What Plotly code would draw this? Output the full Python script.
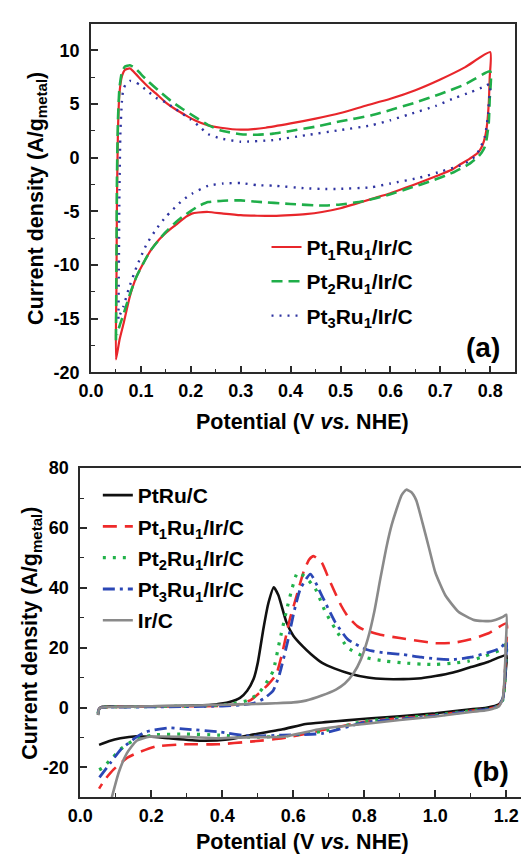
import plotly.graph_objects as go

# ---------------- Panel (a) data ----------------
a_names = ["Pt<sub>1</sub>Ru<sub>1</sub>/Ir/C", "Pt<sub>2</sub>Ru<sub>1</sub>/Ir/C", "Pt<sub>3</sub>Ru<sub>1</sub>/Ir/C"]

a_pt1_x = [0.05, 0.051, 0.052, 0.054, 0.057, 0.062, 0.068, 0.078, 0.09, 0.1, 0.115, 0.13, 0.15, 0.17, 0.19,
           0.21, 0.235, 0.26, 0.3, 0.35, 0.4, 0.45, 0.5, 0.55, 0.6, 0.65, 0.7, 0.75, 0.8,
           0.799, 0.797, 0.794, 0.79, 0.784, 0.776, 0.765, 0.757, 0.74, 0.724, 0.69, 0.659, 0.63, 0.6,
           0.561, 0.53, 0.5, 0.463, 0.43, 0.4, 0.365, 0.333, 0.3, 0.265, 0.235, 0.215, 0.202, 0.19,
           0.17, 0.15, 0.137, 0.12, 0.104, 0.091, 0.078, 0.065, 0.057, 0.05]
a_pt1_y = [-18.8, -12, -4, 2.5, 6.0, 7.6, 8.2, 8.33, 7.8, 7.3, 6.6, 6.0, 5.15, 4.5, 3.95,
           3.45, 3.02, 2.8, 2.62, 2.8, 3.2, 3.65, 4.18, 4.85, 5.5, 6.3, 7.3, 8.45, 9.85,
           7.5, 5.0, 3.2, 2.0, 1.1, 0.5, 0.1, -0.15, -0.6, -1.1, -1.75, -2.3, -2.8, -3.3,
           -3.85, -4.3, -4.7, -5.05, -5.25, -5.35, -5.42, -5.4, -5.35, -5.2, -5.05, -5.1, -5.2, -5.5,
           -6.25, -7.0, -7.6, -8.6, -9.9, -11.1, -12.9, -15.5, -17.0, -18.8]

a_pt2_x = [0.05, 0.051, 0.052, 0.054, 0.057, 0.062, 0.068, 0.078, 0.09, 0.1, 0.115, 0.137, 0.16, 0.185,
           0.209, 0.235, 0.26, 0.3, 0.333, 0.365, 0.4, 0.45, 0.5, 0.561, 0.6, 0.65, 0.7, 0.75, 0.8,
           0.799, 0.797, 0.793, 0.789, 0.783, 0.776, 0.757, 0.724, 0.68, 0.64, 0.6, 0.545, 0.5, 0.463,
           0.4, 0.333, 0.3, 0.265, 0.235, 0.215, 0.202, 0.183, 0.17, 0.15, 0.137, 0.12, 0.104, 0.09,
           0.078, 0.065, 0.057, 0.052]
a_pt2_y = [-17.0, -10, -2, 3.5, 6.5, 8.0, 8.5, 8.63, 8.3, 7.8, 7.1, 6.2, 5.3, 4.5,
           3.8, 3.05, 2.55, 2.2, 2.15, 2.25, 2.5, 2.9, 3.4, 3.95, 4.45, 5.15, 5.95, 6.85, 8.05,
           5.5, 3.2, 1.8, 1.0, 0.5, 0.1, -0.6, -1.4, -2.2, -2.8, -3.4, -4.05, -4.35, -4.45,
           -4.3, -4.1, -3.97, -4.0, -4.13, -4.5, -4.9, -5.5, -6.0, -6.9, -7.6, -8.6, -9.9, -11.2,
           -12.7, -14.6, -15.7, -16.5]

a_pt3_x = [0.055, 0.056, 0.057, 0.059, 0.062, 0.0646, 0.07, 0.078, 0.088, 0.098, 0.1135, 0.13, 0.15, 0.17,
           0.199, 0.215, 0.235, 0.26, 0.3, 0.365, 0.43, 0.496, 0.561, 0.6, 0.639, 0.691, 0.73, 0.76, 0.789, 0.8,
           0.799, 0.797, 0.796, 0.793, 0.789, 0.78, 0.77, 0.755, 0.736, 0.704, 0.659, 0.6, 0.561, 0.496,
           0.463, 0.43, 0.365, 0.333, 0.3, 0.265, 0.235, 0.202, 0.183, 0.15, 0.13, 0.111, 0.091, 0.075,
           0.065, 0.0555]
a_pt3_y = [-15.0, -9, -3, 2.5, 5.3, 6.35, 6.9, 7.17, 7.05, 6.8, 6.2, 5.6, 5.15, 4.53,
           3.6, 3.0, 2.2, 1.8, 1.5, 1.65, 2.1, 2.56, 3.02, 3.5, 4.07, 4.84, 5.6, 6.1, 6.66, 6.9,
           6.0, 5.0, 4.2, 3.0, 1.95, 0.9, 0.13, -0.4, -0.78, -1.24, -1.85, -2.4, -2.75, -2.9,
           -2.9, -2.84, -2.6, -2.55, -2.35, -2.4, -2.6, -3.36, -3.97, -5.5, -6.7, -8.1, -10.2, -12.3,
           -13.85, -14.9]

a_xticks = [0.0, 0.1, 0.2, 0.3, 0.4, 0.5, 0.6, 0.7, 0.8]
a_yticks = [-20, -15, -10, -5, 0, 5, 10]

# ---------------- Panel (b) data ----------------
b_names = ["PtRu/C", "Pt<sub>1</sub>Ru<sub>1</sub>/Ir/C", "Pt<sub>2</sub>Ru<sub>1</sub>/Ir/C",
           "Pt<sub>3</sub>Ru<sub>1</sub>/Ir/C", "Ir/C"]

b_ptru_x = [0.05, 0.053, 0.06, 0.1, 0.2, 0.3, 0.38, 0.42, 0.45, 0.47, 0.488, 0.5, 0.516, 0.53, 0.545,
            0.558, 0.58, 0.6, 0.626, 0.65, 0.68, 0.717, 0.76, 0.81, 0.86, 0.91, 0.96, 1.0, 1.05, 1.1,
            1.15, 1.2,
            1.198, 1.195, 1.19, 1.18, 1.16, 1.14, 1.1, 1.0, 0.9, 0.82, 0.75, 0.69, 0.635, 0.57, 0.48,
            0.415, 0.34, 0.25, 0.2, 0.158, 0.113, 0.08, 0.053]
b_ptru_y = [-2.5, -0.5, 0.2, 0.3, 0.4, 0.6, 1.0, 1.8, 3.2, 5.6, 9.5, 15, 26.5, 35, 40.2,
            37.5, 28.7, 24, 20.5, 17.8, 15, 13.0, 11.3, 10.0, 9.5, 9.5, 9.8, 10.5, 11.7, 13.5,
            15.3, 17.5,
            12, 7, 3, 1.2, 0.3, -0.2, -0.6, -1.9, -2.9, -3.6, -4.3, -4.9, -5.5, -7.3, -9.2,
            -10.7, -11.1, -10.3, -9.8, -9.6, -10.3, -11.3, -12.5]

b_pt1_x = [0.05, 0.053, 0.06, 0.1, 0.2, 0.3, 0.4, 0.45, 0.48, 0.506, 0.53, 0.552, 0.57, 0.589, 0.607,
           0.63, 0.645, 0.657, 0.68, 0.7, 0.717, 0.735, 0.754, 0.78, 0.8, 0.845, 0.9, 0.95, 1.0, 1.05,
           1.1, 1.15, 1.2,
           1.198, 1.195, 1.19, 1.18, 1.16, 1.14, 1.1, 1.0, 0.9, 0.8, 0.68, 0.57, 0.479, 0.387, 0.296,
           0.213, 0.158, 0.13, 0.094, 0.07, 0.053]
b_pt1_y = [-2.0, -0.5, 0.0, 0.2, 0.3, 0.4, 0.6, 1.2, 2.5, 5.0, 7.8, 11.1, 18.8, 29, 36.4,
           45.7, 49.5, 50.6, 48.4, 43, 38.5, 34, 30.3, 27.2, 25.9, 24.3, 23.2, 22.3, 21.5, 21.6,
           22.8, 24.8, 28.1,
           18, 9, 3, 0.8, -0.2, -0.6, -1.1, -2.6, -3.6, -4.8, -7.6, -10.3, -11.4, -12.3, -12.3,
           -13, -15.3, -17.0, -20.7, -24, -27.1]

b_pt2_x = [0.05, 0.053, 0.06, 0.1, 0.2, 0.3, 0.4, 0.43, 0.47, 0.5, 0.52, 0.543, 0.561, 0.58, 0.597,
           0.612, 0.635, 0.662, 0.69, 0.717, 0.754, 0.808, 0.86, 0.909, 0.96, 1.0, 1.05, 1.093, 1.14,
           1.184, 1.2,
           1.198, 1.195, 1.19, 1.18, 1.16, 1.14, 1.1, 1.0, 0.9, 0.8, 0.68, 0.57, 0.479, 0.387, 0.296,
           0.204, 0.15, 0.113, 0.085, 0.062, 0.05]
b_pt2_y = [-2.0, -0.5, 0.0, 0.2, 0.3, 0.4, 0.8, 1.3, 2.3, 4.5, 7.5, 12.2, 22, 32, 40,
           45.1, 43.5, 39.7, 32, 26.5, 19.9, 16.6, 15.5, 14.9, 14.5, 14.4, 14.8, 15.5, 17.2,
           19.3, 21.5,
           14, 7, 2.5, 0.6, -0.3, -0.6, -1.1, -2.5, -3.5, -4.6, -8.0, -9.6, -9.9, -9.2, -8.9,
           -9.2, -11.0, -14.0, -17.5, -20.2, -21]

b_pt3_x = [0.05, 0.053, 0.06, 0.1, 0.2, 0.3, 0.4, 0.45, 0.49, 0.516, 0.543, 0.561, 0.584, 0.602, 0.62,
           0.648, 0.68, 0.717, 0.754, 0.808, 0.86, 0.909, 0.96, 1.0, 1.047, 1.1, 1.15, 1.184, 1.2,
           1.198, 1.195, 1.19, 1.18, 1.16, 1.14, 1.1, 1.0, 0.9, 0.8, 0.68, 0.57, 0.479, 0.387, 0.296,
           0.25, 0.186, 0.158, 0.113, 0.085, 0.053]
b_pt3_y = [-2.0, -0.5, 0.0, 0.1, 0.2, 0.3, 0.5, 0.8, 1.5, 2.9, 5.6, 11.1, 22, 32, 39.7,
           44.6, 37.5, 28.7, 22.7, 19.3, 18.2, 17.7, 16.8, 16.3, 16.0, 16.8, 18.4, 19.9, 22.1,
           15, 8, 3, 0.8, -0.3, -0.7, -1.2, -2.8, -3.9, -5.0, -8.7, -9.2, -9.55, -8.1, -7.2,
           -6.8, -8.1, -9.9, -14.2, -18.5, -23.5]

b_ir_x = [0.05, 0.053, 0.06, 0.1, 0.2, 0.3, 0.4, 0.5, 0.55, 0.6, 0.635, 0.68, 0.72, 0.745, 0.77, 0.79,
          0.81, 0.828, 0.845, 0.863, 0.877, 0.89, 0.905, 0.918, 0.932, 0.946, 0.964, 0.983, 1.0, 1.028,
          1.065, 1.11, 1.157, 1.19, 1.2,
          1.198, 1.195, 1.19, 1.18, 1.16, 1.14, 1.1, 1.0, 0.9, 0.8, 0.68, 0.57, 0.479, 0.387, 0.296,
          0.195, 0.158, 0.131, 0.108, 0.09, 0.08]
b_ir_y = [-2.5, -0.5, 0.0, 0.2, 0.4, 0.6, 0.9, 1.2, 1.4, 1.7, 2.3, 4.0, 6.0, 8.0, 11.5, 16,
          23, 32, 43, 54, 61, 66, 71, 72.8, 72, 69.3, 61.6, 52.9, 45.1, 37.5,
          32, 29.2, 28.9, 30.3, 31,
          20, 10, 3, 0.5, -0.5, -1.0, -1.5, -3.0, -4.2, -5.5, -7.1, -9.8, -9.9, -10.3, -9.8,
          -9.8, -11.2, -15.3, -21.8, -29.5, -34]

b_xticks = [0.0, 0.2, 0.4, 0.6, 0.8, 1.0, 1.2]
b_yticks = [-20, 0, 20, 40, 60, 80]

# ---------------- Figure ----------------
W, H = 521, 861
FONT = "Liberation Sans, Arial, sans-serif"
AXC = "#2a2a2a"

fig = go.Figure()

a_series = [(a_pt1_x, a_pt1_y, "#e8262b", "solid", 2.2),
            (a_pt2_x, a_pt2_y, "#1fae49", "11px,6px", 2.6),
            (a_pt3_x, a_pt3_y, "#2e33a0", "2px,6px", 2.4)]
for i, ((xs, ys, c, d, w), nm) in enumerate(zip(a_series, a_names)):
    fig.add_trace(go.Scatter(x=xs, y=ys, mode="lines", name=nm, xaxis="x", yaxis="y",
                             line=dict(color=c, dash=d, width=w, shape="spline", smoothing=0.5),
                             legend="legend", legendgroup=f"a{i}"))

b_series = [(b_ptru_x, b_ptru_y, "#111111", "solid", 2.6),
            (b_pt1_x, b_pt1_y, "#ee2a2a", "14px,8px", 2.6),
            (b_pt2_x, b_pt2_y, "#22b24a", "3px,7px", 3.2),
            (b_pt3_x, b_pt3_y, "#2b47b5", "12px,5px,3px,5px", 2.8),
            (b_ir_x, b_ir_y, "#8a8a8a", "solid", 2.6)]
for i, ((xs, ys, c, d, w), nm) in enumerate(zip(b_series, b_names)):
    fig.add_trace(go.Scatter(x=xs, y=ys, mode="lines", name=nm, xaxis="x2", yaxis="y2",
                             line=dict(color=c, dash=d, width=w, shape="spline", smoothing=0.5),
                             legend="legend2", legendgroup=f"b{i}"))

tickfont = dict(family=FONT, size=18, color="black", weight="bold")

def xax(domain, anchor, rng, tickvals, minor_dtick, mirror):
    return dict(domain=domain, anchor=anchor, range=rng, tickmode="array", tickvals=tickvals,
                ticktext=[f"{v:.1f}" for v in tickvals], ticks="inside", ticklen=7, tickwidth=1.5,
                tickcolor=AXC, showline=True, linecolor=AXC, linewidth=1.6, mirror=mirror,
                showgrid=False, zeroline=False, tickfont=tickfont, ticklabelstandoff=1,
                minor=dict(ticks="inside", ticklen=4, tickwidth=1.3, tickcolor=AXC, dtick=minor_dtick,
                           tick0=0, showgrid=False))

def yax(domain, anchor, rng, tickvals, minor_dtick, mirror):
    return dict(domain=domain, anchor=anchor, range=rng, tickmode="array", tickvals=tickvals,
                ticktext=[str(v) for v in tickvals], ticks="inside", ticklen=7, tickwidth=1.5,
                tickcolor=AXC, showline=True, linecolor=AXC, linewidth=1.6, mirror=mirror,
                showgrid=False, zeroline=False, tickfont=tickfont, ticklabelstandoff=6,
                minor=dict(ticks="inside", ticklen=4, tickwidth=1.3, tickcolor=AXC, dtick=minor_dtick,
                           tick0=0, showgrid=False))

def px_x(p):
    return p / W

def px_y(p):
    return 1 - p / H

fig.update_layout(
    width=W, height=H, margin=dict(l=0, r=0, t=0, b=0),
    paper_bgcolor="white", plot_bgcolor="white",
    font=dict(family=FONT, color="black"),
    xaxis=xax([px_x(80), px_x(515)], "y", [0, 0.85], a_xticks, 0.05, True),
    yaxis=yax([px_y(371), px_y(14)], "x", [-20, 12.5], a_yticks, 2.5, True),
    xaxis2=xax([px_x(69), 1.0], "y2", [0, 1.2 + 15 / 364], b_xticks, 0.1, True),
    yaxis2=yax([px_y(806), px_y(469)], "x2", [-30, 80], b_yticks, 10, False),
    legend=dict(x=px_x(260), y=px_y(222), xanchor="left", yanchor="top",
                bgcolor="rgba(0,0,0,0)", font=dict(family=FONT, size=21, weight="bold"),
                tracegroupgap=4, itemwidth=30),
    legend2=dict(x=px_x(87), y=px_y(476), xanchor="left", yanchor="top",
                 bgcolor="rgba(0,0,0,0)", font=dict(family=FONT, size=21, weight="bold"),
                 tracegroupgap=1, itemwidth=30),
    showlegend=True,
)

ann_font = dict(family=FONT, size=21.5, color="black", weight="bold")
annotations = [
    dict(text="Potential (V <i>vs.</i> NHE)", x=px_x(297), y=px_y(422), xref="paper", yref="paper",
         showarrow=False, font=ann_font, xanchor="center", yanchor="middle"),
    dict(text="Current density (A/g<sub>metal</sub>)", x=px_x(25), y=px_y(193), xref="paper", yref="paper",
         showarrow=False, font=ann_font, textangle=-90, xanchor="center", yanchor="middle"),
    dict(text="(a)", x=px_x(482), y=px_y(346), xref="paper", yref="paper",
         showarrow=False, font=dict(family=FONT, size=28, color="black", weight="bold"),
         xanchor="center", yanchor="middle"),
    dict(text="Potential (V <i>vs.</i> NHE)", x=px_x(297), y=px_y(852), xref="paper", yref="paper",
         showarrow=False, font=ann_font, xanchor="center", yanchor="middle"),
    dict(text="Current density (A/g<sub>metal</sub>)", x=px_x(19), y=px_y(638), xref="paper", yref="paper",
         showarrow=False, font=ann_font, textangle=-90, xanchor="center", yanchor="middle"),
    dict(text="(b)", x=px_x(490), y=px_y(780), xref="paper", yref="paper",
         showarrow=False, font=dict(family=FONT, size=28, color="black", weight="bold"),
         xanchor="center", yanchor="middle"),
]
fig.update_layout(annotations=annotations)

fig.write_html("out.html")
